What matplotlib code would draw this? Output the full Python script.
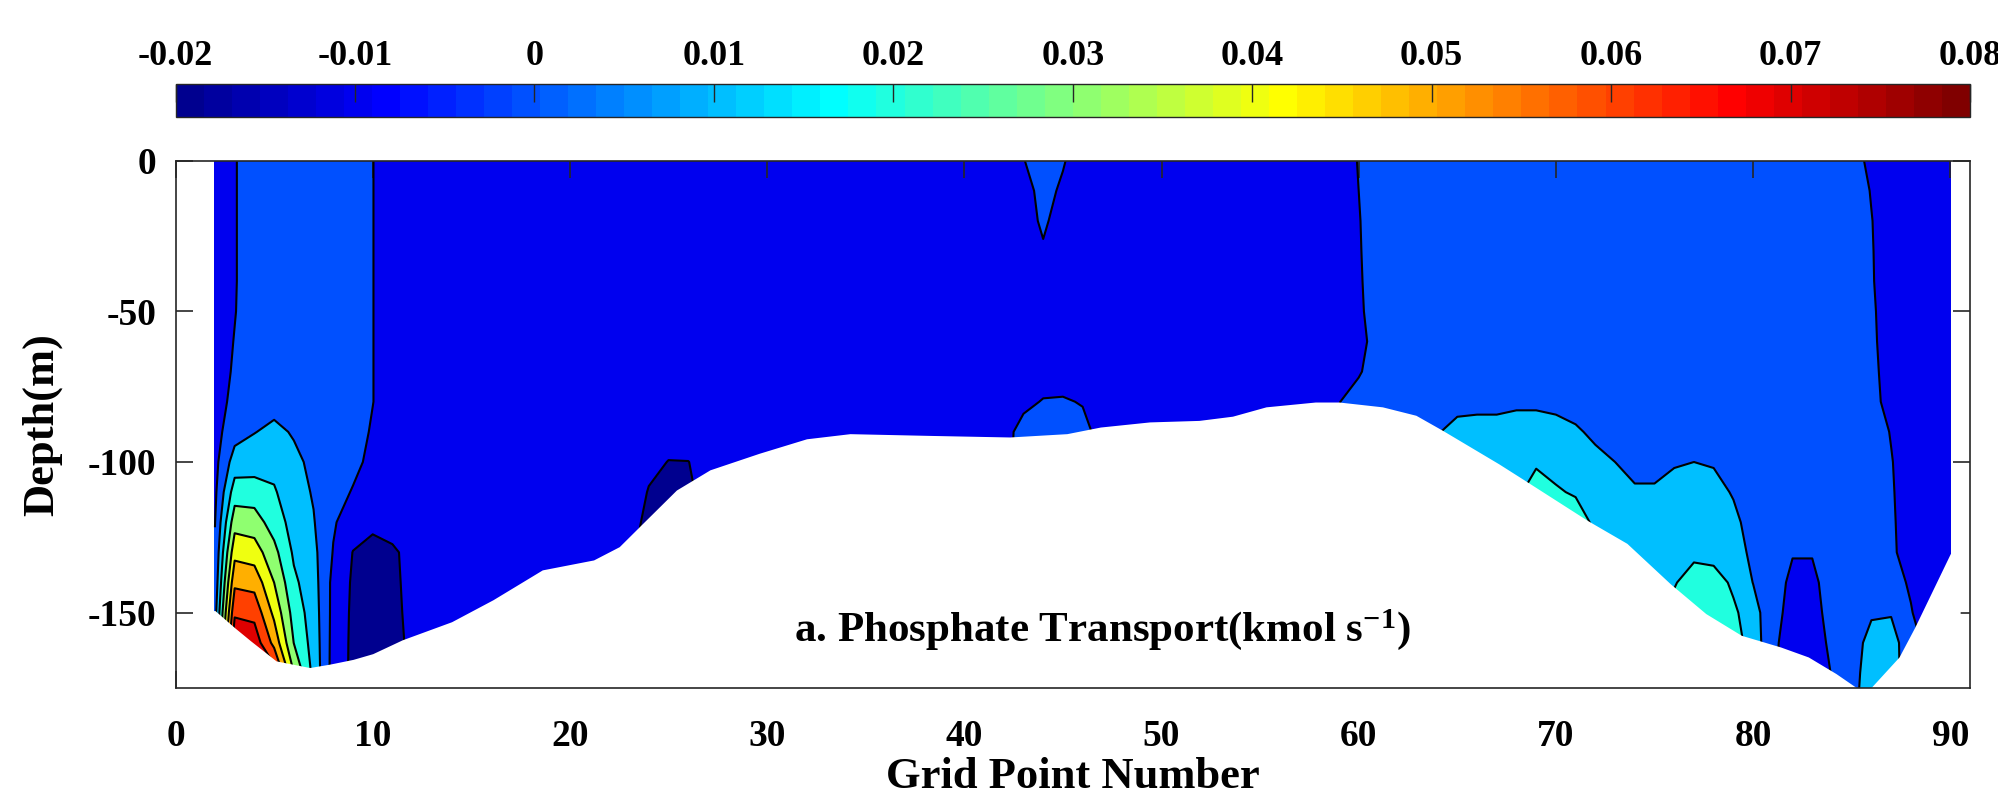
import numpy as np
import matplotlib
matplotlib.use("Agg")
import matplotlib.pyplot as plt
from matplotlib.colors import ListedColormap, Normalize
from matplotlib.cm import ScalarMappable

plt.rcParams['font.family'] = ['Liberation Serif', 'DejaVu Serif']
plt.rcParams['font.weight'] = 'bold'
plt.rcParams['axes.unicode_minus'] = False
plt.rcParams['contour.negative_linestyle'] = 'solid'
plt.rcParams['mathtext.fontset'] = 'custom'
plt.rcParams['mathtext.rm'] = 'Liberation Serif:bold'
plt.rcParams['mathtext.bf'] = 'Liberation Serif:bold'
plt.rcParams['mathtext.it'] = 'Liberation Serif:bold'

# ---------------- data ----------------
# depth levels of the section (m)
depth_levels = [0, -10, -20, -30, -40, -50, -60, -70, -80, -90,
                -100, -110, -120, -130, -140, -150, -160, -170, -180]

# phosphate transport, in 1e-3 kmol/s, one profile per grid point (top -> bottom)
transport_columns = {
    2:  [-4, -4, -4, -4, -4, -4, -4, -4, -4, -3.5, -3, -2, -0.3, 1.5, 3, 6, 9, 10, 10],
    3:  [-0.5, -0.5, -0.5, -0.5, -0.5, -0.3, 0.3, 1, 2.5, 6, 14.5, 25, 36, 47, 58, 68.5, 78, 79, 79],
    4:  [4, 4, 4, 4, 4, 4, 4, 4, 4, 9.7, 15, 25, 34.5, 45, 56.5, 67, 76, 79, 79],
    5:  [5, 5, 5, 5, 5, 5, 5, 5, 7, 12, 17, 21, 25.5, 33, 40, 47.5, 57, 75, 79],
    6:  [5, 5, 5, 5, 5, 5, 5, 5, 5, 9.2, 12, 14, 16, 18.5, 22, 26, 29.8, 40, 50],
    7:  [5, 5, 5, 5, 5, 5, 5, 5, 5, 6.5, 8, 9.2, 10.6, 12.5, 14, 15, 16, 17, 18],
    8:  [5, 5, 5, 5, 5, 5, 5, 5, 5, 5, 5, 4, 1, -0.5, -2.7, -3, -3.5, -4, -4],
    9:  [5, 5, 5, 5, 5, 5, 5, 5, 5, 4, 2.5, -0.7, -5, -10.3, -11.3, -11.8, -12, -12, -12],
    10: [0.2, 0.2, 0.2, 0.2, 0.2, 0.2, 0.2, 0.2, 0.2, -1, -2.5, -4, -8, -13, -14, -14, -14, -14, -14],
    11: [-5, -5, -5, -5, -5, -5, -5, -5, -5, -5, -5, -5, -6, -11.5, -11.8, -12, -12.3, -12.5, -12.5],
    12: [-5, -5, -5, -5, -5, -5, -5, -5, -5, -5, -5, -5, -5, -7, -7.5, -8, -8.5, -8.5, -8.5],
    14: [-5] * 19,
    22: [-5] * 19,
    23: [-5] * 12 + [-7, -9, -9, -9, -9, -9, -9],
    24: [-5] * 10 + [-8, -10.5, -12, -12, -12, -12, -12, -12, -12],
    25: [-5] * 9 + [-7, -10.2, -12, -12, -12, -12, -12, -12, -12, -12],
    26: [-5] * 9 + [-7, -10.1, -11, -11, -11, -11, -11, -11, -11, -11],
    27: [-5] * 9 + [-6, -8, -8, -8, -8, -8, -8, -8, -8, -8],
    30: [-5] * 19,
    42: [-5] * 9 + [-3, -3, -5, -5, -5, -5, -5, -5, -5, -5],
    43: [-0.3, -3.5, -4, -5, -5, -5, -5, -5, -2, 3, 4, 4, 4, 4, 4, 4, 4, 4, 4],
    44: [4, 3, 1.5, -1, -5, -5, -5, -4, 0.5, 4.5, 4.5, 4.5, 4.5, 4.5, 4.5, 4.5, 4.5, 4.5, 4.5],
    45: [0.8, -1.5, -4, -5, -5, -5, -5, -4, 0.8, 4.5, 4.5, 4.5, 4.5, 4.5, 4.5, 4.5, 4.5, 4.5, 4.5],
    46: [-5, -5, -5, -5, -5, -5, -5, -5, -0.5, 2.5, 2.5, 2.5, 2.5, 2.5, 2.5, 2.5, 2.5, 2.5, 2.5],
    47: [-5] * 8 + [-4, -3, -3, -3, -3, -3, -3, -3, -3, -3, -3],
    50: [-5] * 19,
    58: [-5] * 19,
    59: [-5, -5, -5, -5, -5, -5, -5, -4, -0.3, 2, 2, 2, 2, 2, 2, 2, 2, 2, 2],
    60: [0.5, 0, -0.5, -0.8, -1.2, -1.8, -3, -1, 4, 5, 5, 5, 5, 5, 5, 5, 5, 5, 5],
    61: [5, 5, 5, 5, 5, 5, 4, 5, 5, 5, 5, 5, 5, 5, 5, 5, 5, 5, 5],
    62: [5] * 19,
    63: [5] * 9 + [7, 8, 8, 8, 8, 8, 8, 8, 8, 8],
    64: [5] * 8 + [6, 9.5, 12, 13, 13, 13, 13, 13, 13, 13, 13],
    65: [5] * 8 + [7.5, 12.5, 14, 15, 15, 15, 15, 15, 15, 15, 15],
    66: [5] * 8 + [8.5, 12, 14, 15, 15, 15, 15, 15, 15, 15, 15],
    67: [5] * 8 + [8.5, 12, 14, 15, 16, 16, 16, 16, 16, 16, 16],
    68: [5] * 8 + [8.8, 13, 15, 17, 18, 18, 18, 18, 18, 18, 18],
    69: [5] * 8 + [8.8, 13, 18, 27, 28, 28, 28, 28, 28, 28, 28],
    70: [5] * 8 + [8.5, 12, 17, 21, 24, 24, 24, 24, 24, 24, 24],
    71: [5] * 8 + [7, 11, 14, 19, 25, 25, 25, 25, 25, 25, 25],
    72: [5] * 8 + [6, 8.5, 12, 16, 18, 18, 18, 18, 18, 18, 18],
    73: [5] * 9 + [7, 10, 13, 15, 16, 16, 16, 16, 16, 16],
    74: [5] * 9 + [6, 8, 10.8, 13, 14, 14, 14, 14, 14, 14],
    75: [5] * 9 + [6, 8, 10.8, 13, 14, 15, 15, 15, 15, 15],
    76: [5] * 9 + [6.5, 9.5, 12, 14, 16, 19, 24, 24, 24, 24],
    77: [5] * 9 + [7, 10, 13, 15, 17, 26, 28, 28, 28, 28],
    78: [5] * 9 + [7, 9.5, 12, 14, 16, 25, 27, 27, 27, 27],
    79: [5] * 9 + [5.5, 6.5, 9.5, 11.5, 13, 18, 22, 24, 24, 24],
    80: [5] * 9 + [5, 5, 6, 7.5, 8.5, 9.8, 14, 16, 16, 16],
    81: [5] * 14 + [4, 3, 1.5, 1, 1],
    82: [5] * 12 + [4, 0.5, -2, -3, -3.5, -4, -4],
    83: [5] * 12 + [4, 0.5, -2, -3, -3.5, -4, -4],
    84: [5] * 14 + [4, 3, 1.5, 0.3, 0],
    85: [5] * 16 + [6, 7, 8],
    86: [-3, -0.5, 0.3, 0.6, 0.8, 1.5, 2, 3, 4.5, 4.5, 5, 5, 5, 5, 6, 9, 13, 14, 14],
    87: [-5] * 9 + [-0.5, 0.5, 1, 1.5, 2, 3, 9.5, 13, 13, 13],
    88: [-5] * 14 + [-1, 0.5, 5.5, 6, 6],
    89: [-5] * 19,
    90: [-5] * 19,
}

# sea-floor depth along the section
bottom_x = [2.0, 3.0, 3.8, 5.1, 6.8, 7.8, 9.0, 10.0, 11.5, 14.0, 16.1, 18.6, 21.2, 22.5,
            23.7, 25.4, 27.1, 29.6, 32.0, 34.2, 38.4, 42.3, 45.2, 46.9, 49.4, 51.9, 53.6,
            55.3, 57.8, 59.0, 61.2, 62.9, 64.25, 67.1, 68.4, 71.6, 73.6, 75.8, 77.6, 79.4,
            81.4, 82.8, 84.2, 85.2, 85.6, 86.0, 87.4, 88.2, 90.0]
bottom_z = [-149.3, -155.0, -159.3, -166.0, -168.2, -167.1, -165.5, -163.6, -159.0, -153.0,
            -145.7, -135.8, -132.5, -128.1, -120.3, -109.3, -102.6, -97.1, -92.3, -90.6,
            -91.2, -91.7, -90.6, -88.4, -86.7, -86.2, -84.8, -81.7, -80.1, -80.1, -81.7,
            -84.5, -89.5, -100.6, -106.0, -119.4, -127.0, -140.4, -150.3, -157.5, -161.4,
            -164.7, -170.2, -174.7, -176.0, -174.7, -164.7, -154.8, -130.4]

# contour levels (1e-3 kmol/s) and colour-bar ticks
contour_levels = [-20, -10, 0, 10, 20, 30, 40, 50, 60, 70, 80]
cbar_ticks = [-20, -10, 0, 10, 20, 30, 40, 50, 60, 70, 80]
cbar_ticklabels = ['-0.02', '-0.01', '0', '0.01', '0.02', '0.03', '0.04',
                   '0.05', '0.06', '0.07', '0.08']
x_ticks = [0, 10, 20, 30, 40, 50, 60, 70, 80, 90]
y_ticks = [-150, -100, -50, 0]
cmin, cmax = -20, 80


# ---------------- MATLAB-style jet(64) ----------------
def matlab_jet(m=64):
    n = int(np.ceil(m / 4))
    u = np.concatenate([np.arange(1, n + 1) / n, np.ones(n - 1), np.arange(n, 0, -1) / n])
    g = int(np.ceil(n / 2)) - (1 if m % 4 == 1 else 0) + np.arange(1, len(u) + 1)
    r = g + n
    b = g - n
    J = np.zeros((m, 3))
    for arr, c in ((r, 0), (g, 1), (b, 2)):
        ok = (arr >= 1) & (arr <= m)
        J[arr[ok] - 1, c] = u[ok]
    return J

jet64 = matlab_jet(64)
cmap = ListedColormap(jet64)
fill_colors = []
for lev in contour_levels[:-1]:
    idx = int(np.floor((lev - cmin) * 64 / (cmax - cmin)))
    idx = min(max(idx, 0), 63)
    fill_colors.append(tuple(jet64[idx]))

# ---------------- grid ----------------
grid_x = sorted(transport_columns.keys())
V = np.array([transport_columns[k] for k in grid_x], dtype=float).T
X, Z = np.meshgrid(np.array(grid_x, float), np.array(depth_levels, float))

# ---------------- figure ----------------
fig = plt.figure(figsize=(19.99, 8.08), dpi=100)
ax = fig.add_axes([0.0878, 0.1485, 0.8977, 0.6527])
spine_col = '#262626'

ax.contourf(X, Z, V, levels=contour_levels, colors=fill_colors, zorder=1)
ax.contour(X, Z, V, levels=contour_levels, colors='k', linewidths=1.5,
           linestyles='solid', zorder=2)

mask_x = [1.5] + bottom_x + [90.5]
mask_z = [bottom_z[0]] + bottom_z + [bottom_z[-1]]
ax.fill_between(mask_x, mask_z, -200, color='white', lw=0, zorder=3)

ax.text(47, -155.5, 'a. Phosphate Transport(kmol s$^{\\mathbf{-1}}$)',
        ha='center', va='center', fontsize=31, fontweight='bold', zorder=5)

ax.set_xlim(0, 91)
ax.set_ylim(-175, 0)
ax.set_xticks(x_ticks)
ax.set_yticks(y_ticks)
ax.tick_params(axis='both', direction='in', length=12, width=1.2, color=spine_col,
               top=True, right=True, labelsize=27)
ax.tick_params(axis='x', pad=22)
ax.tick_params(axis='y', pad=14)
for s in ax.spines.values():
    s.set_linewidth(1.2)
    s.set_color(spine_col)
    s.set_zorder(6)

ax.set_xlabel('Grid Point Number', fontsize=32, fontweight='bold')
ax.xaxis.set_label_coords(0.5, -0.168)
ax.xaxis.label.set_verticalalignment('center')
ax.set_ylabel('Depth(m)', fontsize=32, fontweight='bold')
ax.yaxis.set_label_coords(-0.0745, 0.5)
ax.yaxis.label.set_verticalalignment('center')
ax.yaxis.label.set_horizontalalignment('center')

# colour bar
cax = fig.add_axes([0.0878, 0.8552, 0.8977, 0.0408])
sm = ScalarMappable(norm=Normalize(cmin, cmax), cmap=cmap)
cb = fig.colorbar(sm, cax=cax, orientation='horizontal', ticks=cbar_ticks)
cb.set_ticklabels(cbar_ticklabels)
cax.xaxis.set_ticks_position('top')
cax.tick_params(axis='x', direction='in', length=13, width=1.0, color=spine_col,
                top=True, bottom=False, labeltop=True, labelbottom=False,
                labelsize=26, pad=8)
cb.outline.set_linewidth(1.0)
cb.outline.set_edgecolor(spine_col)

fig.savefig('out.png', dpi=100)
